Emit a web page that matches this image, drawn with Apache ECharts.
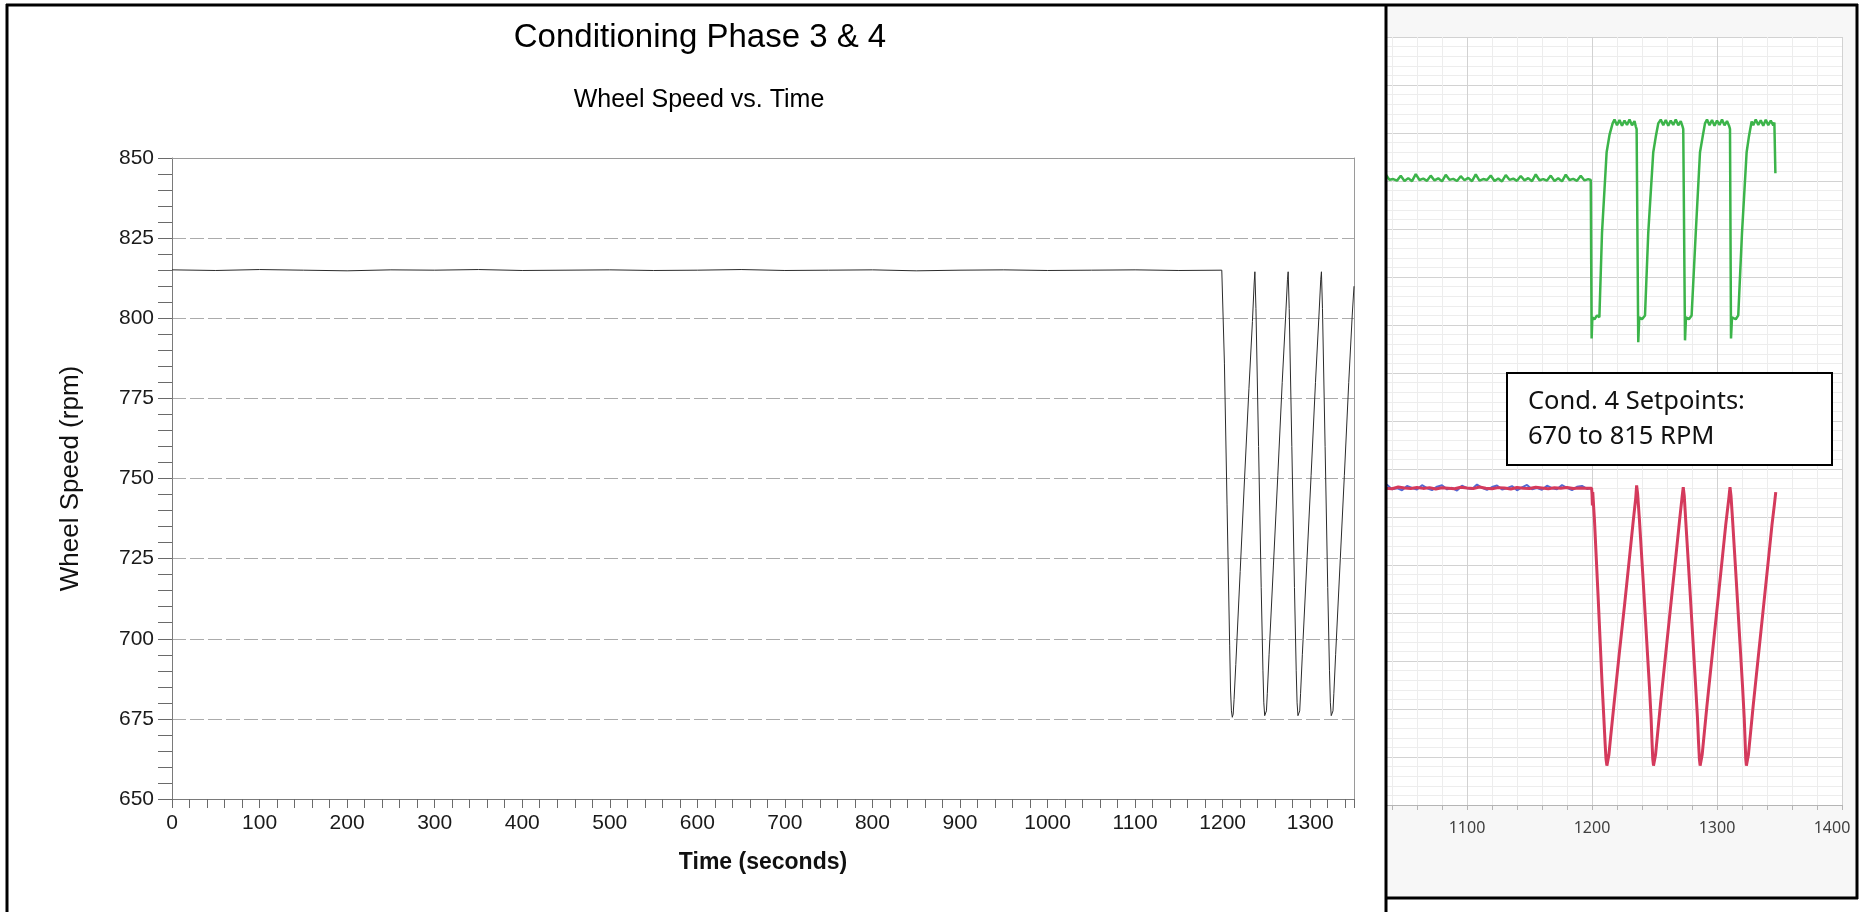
<!DOCTYPE html>
<html><head><meta charset="utf-8">
<script src="https://cdn.jsdelivr.net/npm/echarts@6/dist/echarts.min.js"></script>
<style>html,body{margin:0;padding:0;background:#fff}#c{width:1863px;height:912px}</style>
</head><body><div id="c"></div><script>
// ---------- Left chart: Conditioning Phase 3 & 4 ----------
const leftTime = [0,50,100,150,200,250,300,350,400,450,500,550,600,650,700,750,800,850,900,950,1000,1050,1100,1150,1199,
  1200,1202,1205,1208,1209,1210,1211,1212,1213,1215,1220,1225,1230,1234,1236,1236.8,
  1238,1241,1244,1246,1247,1248,1249,1250,1251,1253,1258,1263,1268,1272,1274,1274.8,
  1276,1279,1282,1284,1285,1286,1287,1288,1289,1291,1296,1301,1306,1310,1312,1312.8,
  1314,1317,1320,1322,1323,1324,1325,1326,1327,1329,1334,1339,1344,1348,1350];
const leftSpeed = [815.1,814.9,815.2,815.0,814.8,815.1,815.0,815.2,814.9,815.0,815.1,814.9,815.0,815.2,814.9,815.0,815.1,814.8,815.0,815.1,814.9,815.0,815.1,814.9,815.0,
  815,786,742,698,684,677.5,675.5,676.5,681,692,721,750,778,799,811,814.5,
  803,760,716,690,680,676,675.5,677.5,683,695,723,751,780,801,812,814.5,
  803,760,716,690,680,676,675.5,677.5,683,695,723,751,780,801,812,814.5,
  803,760,716,690,680,676,675.5,677.5,683,695,723,751,780,801,810];

// ---------- Right chart (cropped screenshot) ----------
const redTime = [1020,1025,1030,1035,1040,1045,1050,1055,1060,
  1065,1070,1075,1080,1085,1090,1095,1100,1105,
  1110,1115,1120,1125,1130,1135,1140,1145,1150,
  1155,1160,1165,1170,1175,1180,1185,1190,1195,
  1199.7,1200,1200.3,1200.6,1202,1205,1208,1209.5,1210.5,1211.2,1211.9,1212.6,1213.5,1215,1218,1222,1226,1230,1233,1235,1235.7,
  1236.5,1238,1241,1244,1246,1247.3,1248,1248.6,1249.2,1249.9,1250.8,1252.3,1255,1259,1263,1267,1270,1272,1273,
  1273.8,1275,1278,1281,1283,1284.4,1285.2,1285.9,1286.5,1287.2,1288.1,1289.6,1292,1296,1300,1304,1307,1309.5,1310.4,
  1311.2,1312.5,1315.5,1318.5,1320.5,1321.8,1322.5,1323,1323.5,1324.2,1325.1,1326.6,1329,1333,1337,1341,1344,1346,1347];
const redSpeed = [815.2,814.6,815.5,815.0,814.7,815.6,815.1,814.8,815.4,
  814.9,815.3,814.6,815.2,815.0,814.7,815.5,815.1,814.8,
  815.6,815.0,814.7,815.3,815.1,814.6,815.4,815.0,814.8,
  815.5,815.1,814.7,815.2,815.0,815.4,814.8,815.1,815.0,
  815,812,806,813,798,757,714,695,682,674,670.5,671.5,676,686,705,730,754,779,798,810,816.5,
  812,798,766,733,711,695,683,674,670.5,671.5,676,686,704,729,754,779,798,810,815.5,
  811,798,766,733,711,695,683,674,670.5,671.5,676,686,702,727,752,777,796,810,815.5,
  811,798,766,733,711,695,683,674,670.5,671.5,676,686,702,727,752,777,796,807,813];

const blueTime = [1020,1024,1028,1032,1036,1040,1044,1048,1052,
  1056,1060,1064,1068,1072,1076,1080,1084,1088,
  1092,1096,1100,1104,1108,1112,1116,1120,1124,
  1128,1132,1136,1140,1144,1148,1152,1156,1160,
  1164,1168,1172,1176,1180,1184,1188,1192,1196,
  1199.7];
const blueSpeed = [815.0,816.4,814.2,815.3,816.8,814.5,815.0,813.9,816.2,
  815.1,814.3,816.6,815.0,814.0,815.8,816.5,814.4,815.2,
  813.8,816.3,815.0,814.6,816.9,815.2,814.1,815.6,816.4,
  814.3,815.0,816.1,813.9,815.4,816.7,814.5,815.1,814.2,
  816.3,815.0,814.4,816.6,815.2,814.0,815.7,816.2,814.6,
  815.0];

const greenTime = [1020,1023,1026,1029,1032,1035,1038,1041,1044,1047,
  1050,1053,1056,1059,1062,1065,1068,1071,1074,1077,
  1080,1083,1086,1089,1092,1095,1098,1101,1104,1107,
  1110,1113,1116,1119,1122,1125,1128,1131,1134,1137,
  1140,1143,1146,1149,1152,1155,1158,1161,1164,1167,
  1170,1173,1176,1179,1182,1185,1188,1191,1194,1197,
  1199,1199.7,1200.3,1202,1204,1205.9,1208,1211.7,1214,1216.5,1218,1220,1222,1224,1226,1228,1230,1232,1234,1235,
  1235.7,1237,1237.8,1240,1242.4,1245,1249,1251,1253,1255,1257,1259,1261,1263,1265,1267,1269,1271,1272.4,
  1273,1274.4,1275.2,1277.5,1279.7,1283,1286.4,1288.5,1290.4,1292,1294,1296,1298,1300,1302,1304,1306,1308,1309.8,
  1310.4,1311.2,1312,1315,1317,1320,1323.7,1325.5,1327.7,1329,1331,1333,1335,1337,1339,1341,1343,1345,1345.9,1346.7];
const greenValue = [975.4,977.9,975.1,976.3,974.8,978.4,975.6,976.0,975.2,977.7,
  975.0,976.5,974.9,978.6,975.5,976.2,975.1,977.8,975.3,976.4,
  974.8,978.2,975.6,976.1,975.0,977.5,975.4,976.6,974.9,978.5,
  975.2,976.0,975.5,977.9,975.0,976.3,974.8,978.1,975.6,976.2,
  975.1,977.6,975.3,976.5,974.9,978.4,975.4,976.0,975.2,977.8,
  975.0,976.4,974.8,978.3,975.5,976.1,975.1,977.7,975.3,976.0,
  975.5,893,904,903,905,904,948,990,999,1005,1007,1004,1006.8,1003.8,1006.5,1004.2,1007,1004,1006.2,1003.5,
  1002,891,904,903,905,948,990,998,1005,1007,1004,1006.8,1003.8,1006.5,1004.2,1007,1004,1006.2,1003.5,
  1002,892,904,903,905,948,990,998,1005,1007,1004,1006.8,1003.8,1006.5,1004.2,1007,1004,1006.2,1003.5,
  1002,893,904,903,905,948,990,998,1006,1004,1007,1004.2,1006.6,1003.8,1006.9,1004.1,1006.4,1004,1005.5,979];

const titleText = 'Conditioning Phase 3 & 4';
const subtitleText = 'Wheel Speed vs. Time';
const xTitle = 'Time (seconds)';
const yTitle = 'Wheel Speed (rpm)';
const boxLines = ['Cond. 4 Setpoints:', '670 to 815 RPM'];

const zip = (xs, ys) => xs.map((x, i) => [x, ys[i]]);
const FL = '"Liberation Sans", Arial, sans-serif';
const FR = '"Noto Sans", "Open Sans", sans-serif';

const chart = echarts.init(document.getElementById('c'), null, {renderer: 'canvas'});
chart.setOption({
  animation: false,
  backgroundColor: '#ffffff',
  grid: [
    {left: 172, top: 158, width: 1182, height: 641, show: false},
    {left: 1367, top: 37, width: 475, height: 768, show: true, backgroundColor: '#ffffff', borderWidth: 0}
  ],
  xAxis: [
    {gridIndex: 0, type: 'value', min: 0, max: 1350, interval: 20, position: 'bottom',
     axisLine: {show: true, onZero: false, lineStyle: {color: '#7a7a7a', width: 1}},
     axisTick: {show: true, inside: false, length: 9, lineStyle: {color: '#6a6a6a'}},
     axisLabel: {margin: 14, fontSize: 21, fontFamily: FL, color: '#1a1a1a',
                 formatter: v => (v % 100 === 0 ? String(v) : '')},
     splitLine: {show: false},
     name: xTitle, nameLocation: 'middle', nameGap: 52,
     nameTextStyle: {fontSize: 23, fontWeight: 'bold', fontFamily: FL, color: '#111'}},
    {gridIndex: 0, type: 'value', min: 0, max: 1350, position: 'top',
     axisLine: {show: true, onZero: false, lineStyle: {color: '#9a9a9a'}},
     axisTick: {show: false}, axisLabel: {show: false}, splitLine: {show: false}},
    {gridIndex: 1, type: 'value', min: 1020, max: 1400, interval: 20, position: 'bottom',
     axisLine: {show: true, onZero: false, lineStyle: {color: '#b5b5b5'}},
     axisTick: {show: true, length: 5, lineStyle: {color: '#b5b5b5'}},
     axisLabel: {margin: 15, fontSize: 16, fontFamily: FR, color: '#404040',
                 formatter: v => (v === 1400 ? '{m|' + v + '}' : (v % 100 === 0 ? String(v) : '')),
                 rich: {m: {fontSize: 16, fontFamily: FR, color: '#404040', padding: [0, 20, 0, 0]}}},
     splitLine: {show: true, lineStyle: {color: ['#ededed', '#ededed', '#ededed', '#ededed', '#d2d2d2'], width: 1}}}
  ],
  yAxis: [
    {gridIndex: 0, type: 'value', min: 650, max: 850, interval: 25,
     axisLine: {show: true, onZero: false, lineStyle: {color: '#7a7a7a'}},
     axisTick: {show: true, length: 14, lineStyle: {color: '#6a6a6a'}},
     minorTick: {show: true, splitNumber: 5, length: 14, lineStyle: {color: '#6a6a6a'}},
     axisLabel: {margin: 18, fontSize: 21, fontFamily: FL, color: '#1a1a1a'},
     splitLine: {show: true, lineStyle: {color: '#ababab', type: [14, 4], width: 1}},
     name: yTitle, nameLocation: 'middle', nameRotate: 90, nameGap: 88,
     nameTextStyle: {fontSize: 26, fontFamily: FL, color: '#111'}},
    {gridIndex: 0, type: 'value', min: 650, max: 850, position: 'right',
     axisLine: {show: true, onZero: false, lineStyle: {color: '#9a9a9a'}},
     axisTick: {show: false}, axisLabel: {show: false}, splitLine: {show: false}},
    {gridIndex: 1, type: 'value', min: 650, max: 1050, interval: 5,
     axisLine: {show: false}, axisTick: {show: false}, axisLabel: {show: false},
     splitLine: {show: true, lineStyle: {color: ['#d2d2d2', '#ededed', '#ededed', '#ededed', '#ededed'], width: 1}}}
  ],
  series: [
    {type: 'line', xAxisIndex: 0, yAxisIndex: 0, data: zip(leftTime, leftSpeed), symbol: 'none',
     lineStyle: {color: '#2b2b2b', width: 1}, silent: true},
    {type: 'line', xAxisIndex: 2, yAxisIndex: 2, data: zip(greenTime, greenValue), symbol: 'none',
     lineStyle: {color: '#3cb44a', width: 2.5}, silent: true},
    {type: 'line', xAxisIndex: 2, yAxisIndex: 2, data: zip(blueTime, blueSpeed), symbol: 'none',
     lineStyle: {color: '#5468d4', width: 2}, silent: true},
    {type: 'line', xAxisIndex: 2, yAxisIndex: 2, data: zip(redTime, redSpeed), symbol: 'none',
     lineStyle: {color: '#d43a5c', width: 3}, silent: true}
  ],
  graphic: {elements: [
    {type: 'rect', shape: {x: 1386, y: 5, width: 471, height: 893}, style: {fill: '#f7f7f7'}, z: -10, silent: true},
    {type: 'rect', shape: {x: 1356, y: 6, width: 30, height: 906}, style: {fill: '#ffffff'}, z: 50, silent: true},
    {type: 'text', x: 700, y: 38, z: 60, style: {text: titleText, fontSize: 33, fontFamily: FL, fill: '#000', align: 'center', verticalAlign: 'middle'}},
    {type: 'text', x: 699, y: 100, z: 60, style: {text: subtitleText, fontSize: 25, fontFamily: FL, fill: '#000', align: 'center', verticalAlign: 'middle'}},
    {type: 'rect', shape: {x: 1507, y: 373, width: 325, height: 92}, style: {fill: '#ffffff', stroke: '#000', lineWidth: 2}, z: 60},
    {type: 'text', x: 1528, y: 402, z: 61, style: {text: boxLines[0], fontSize: 25.5, fontFamily: FR, fill: '#111', align: 'left', verticalAlign: 'middle'}},
    {type: 'text', x: 1528, y: 437, z: 61, style: {text: boxLines[1], fontSize: 25.5, fontFamily: FR, fill: '#111', align: 'left', verticalAlign: 'middle'}},
    {type: 'line', shape: {x1: 6, y1: 5, x2: 1858, y2: 5}, style: {stroke: '#000', lineWidth: 3}, z: 70},
    {type: 'line', shape: {x1: 7, y1: 4, x2: 7, y2: 912}, style: {stroke: '#000', lineWidth: 3}, z: 70},
    {type: 'line', shape: {x1: 1386, y1: 4, x2: 1386, y2: 912}, style: {stroke: '#000', lineWidth: 3}, z: 70},
    {type: 'line', shape: {x1: 1857, y1: 4, x2: 1857, y2: 899}, style: {stroke: '#000', lineWidth: 3}, z: 70},
    {type: 'line', shape: {x1: 1386, y1: 898, x2: 1858, y2: 898}, style: {stroke: '#000', lineWidth: 3}, z: 70}
  ]}
});
</script></body></html>
